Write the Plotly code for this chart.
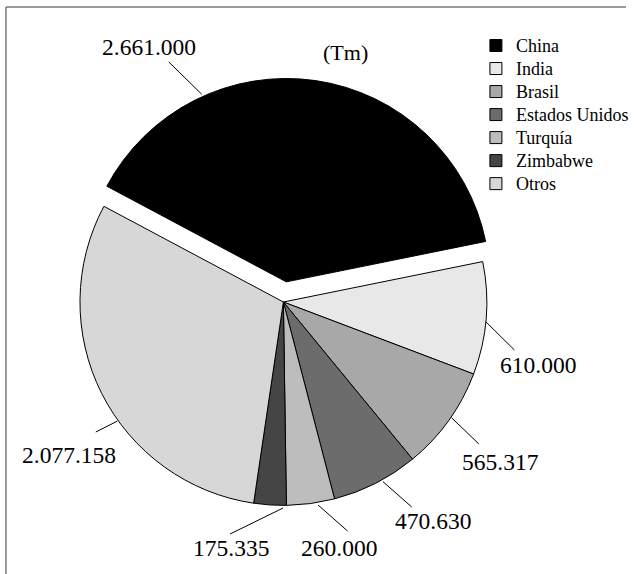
import math
import plotly.graph_objects as go

# ---- data ----
countries = ['China', 'India', 'Brasil', 'Estados Unidos', 'Turquía', 'Zimbabwe', 'Otros']
production_tm = [2661000, 610000, 565317, 470630, 260000, 175335, 2077158]
unit_label = '(Tm)'

# ---- style ----
colors = ['#000000', '#e8e8e8', '#a8a8a8', '#6c6c6c', '#bdbdbd', '#454545', '#d7d7d7']
pulls = [0.1, 0, 0, 0, 0, 0, 0]
FONT = 'Liberation Serif'
W, H = 634, 574
# positions below are in window pixels
CX, CY, R = 287, 302, 206
china_mid_deg = 81.7
label_pos = [(151, 47), (545, 365), (507, 462), (439, 521), (343, 548), (234, 548), (70, 455)]
leader_end = [(171, 62), (521, 350), (485, 444), (417, 507), (352, 531), (233, 534), (97, 432)]
anchor_frac = [0.266, 0.527, 0.451, 0.407, 0.347, 0.1, 0.422]


def px(x):
    return x / W


def py(y):
    return 1 - y / H


def fmt(v):
    return f"{v:,}".replace(',', '.')


total = sum(production_tm)
fracs = [v / total for v in production_tm]
start_deg = china_mid_deg + fracs[0] * 180
rotation = 90 - start_deg

half_box = R * (1 + max(pulls))
domain_x = [px(CX - half_box), px(CX + half_box)]
domain_y = [py(CY + half_box), py(CY - half_box)]

legend_names = [f"<span style='font-size:18px'>{c}</span>" for c in countries]

fig = go.Figure(go.Pie(
    labels=legend_names,
    values=production_tm,
    sort=False,
    direction='clockwise',
    rotation=rotation,
    pull=pulls,
    marker=dict(colors=colors, line=dict(color='#000000', width=1)),
    textinfo='none',
    hoverinfo='label+value',
    domain=dict(x=domain_x, y=domain_y),
))

annotations = []
shapes = []
cum = 0.0
for i, v in enumerate(production_tm):
    s = start_deg - 360 * cum
    w = 360 * fracs[i]
    mid = math.radians(s - w / 2)
    a = math.radians(s - anchor_frac[i] * w)
    ox = pulls[i] * R * math.cos(mid)
    oy = -pulls[i] * R * math.sin(mid)
    hx = CX + ox + R * math.cos(a)
    hy = CY + oy - R * math.sin(a)
    ex, ey = leader_end[i]
    shapes.append(dict(type='line', xref='paper', yref='paper',
                       x0=px(hx), y0=py(hy), x1=px(ex), y1=py(ey),
                       line=dict(color='#000000', width=1)))
    tx, ty = label_pos[i]
    annotations.append(dict(
        x=px(tx), y=py(ty), xref='paper', yref='paper', showarrow=False,
        xanchor='center', yanchor='middle', text=fmt(v),
        font=dict(family=FONT, size=23.5, color='#000000'),
    ))
    cum += fracs[i]

annotations.append(dict(
    x=px(350), y=py(52), xref='paper', yref='paper', showarrow=False,
    text=unit_label, xanchor='center', yanchor='middle',
    font=dict(family=FONT, size=22, color='#000000'),
))

shapes += [
    dict(type='line', xref='paper', yref='paper', x0=px(6), x1=1, y0=py(7), y1=py(7),
         line=dict(color='#7a7a7a', width=1.5)),
    dict(type='line', xref='paper', yref='paper', x0=px(6), x1=px(6), y0=0, y1=py(7),
         line=dict(color='#7a7a7a', width=1.5)),
]

fig.update_layout(
    width=W, height=H,
    margin=dict(l=0, r=0, t=0, b=0),
    paper_bgcolor='white', plot_bgcolor='white',
    font=dict(family=FONT, color='#000000'),
    showlegend=True,
    legend=dict(x=px(482), y=py(29), xanchor='left', yanchor='top',
                font=dict(family=FONT, size=15.4, color='#000000'),
                bgcolor='rgba(0,0,0,0)', traceorder='normal'),
    annotations=annotations,
    shapes=shapes,
)

fig.write_html("out.html",
               config={'displayModeBar': False},
               post_script="document.body.style.margin='0px';document.body.style.overflow='hidden';")
